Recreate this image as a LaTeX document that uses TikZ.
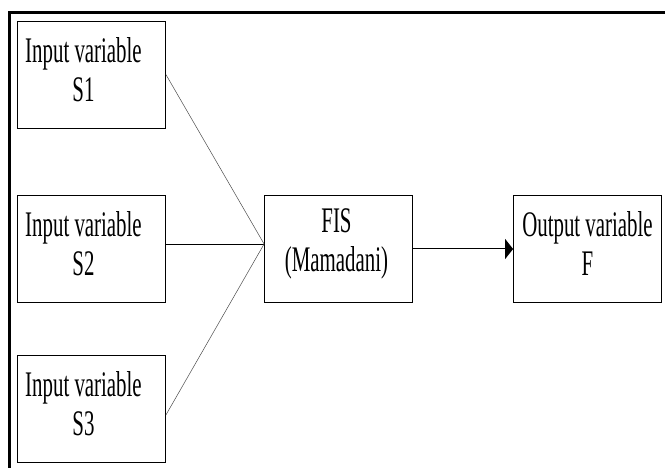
\documentclass[tikz,border=0pt]{standalone}
\usepackage{fontspec}
\setmainfont{Liberation Serif}[FakeStretch=0.58]
\usepackage{tikz}
\usetikzlibrary{arrows.meta,positioning}

\tikzset{
  box/.style={draw, line width=0.8pt, minimum width=148pt, minimum height=107pt, inner sep=0pt},
  boxtext/.style={align=center, font=\fontsize{36}{39}\selectfont, yshift=5pt},
}

\begin{document}
\begin{tikzpicture}[x=1pt, y=1pt]
            \useasboundingbox (0,0) rectangle (665,468);
            \draw[line width=3pt] (9.5,0) -- (9.5,455.5) -- (665,455.5);

            \node[box, label={[boxtext, xshift=-8pt]center:Input variable\\S1}] (s1) at (91.5,393.5) {};
            \node[box, label={[boxtext, xshift=-8pt]center:Input variable\\S2}] (s2) at (91.5,219) {};
            \node[box, label={[boxtext, xshift=-8pt]center:Input variable\\S3}] (s3) at (91.5,59) {};
            \node[box, label={[boxtext, xshift=-2pt]center:FIS\\(Mamadani)}] (fis) at (338.5,219) {};
            \node[box, label={[boxtext]center:Output variable\\F}] (out) at (587.5,219) {};

            \draw[line width=0.5pt, black!70] (s1.east) -- ([yshift=5pt]fis.west);
            \draw[line width=1pt] ([yshift=4pt]s2.east) -- ([yshift=4pt]fis.west);
            \draw[line width=0.5pt, black!70] ([yshift=-6pt]s3.east) -- ([yshift=5pt]fis.west);
            \draw[line width=1pt, -{Triangle[length=8pt, width=20pt]}] (fis.east) -- (out.west);
        \end{tikzpicture}
\end{document}
